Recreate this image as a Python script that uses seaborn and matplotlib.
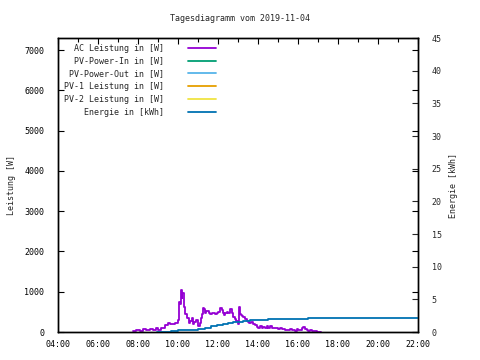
import numpy as np
import pandas as pd
import matplotlib
matplotlib.use("Agg")
import matplotlib.pyplot as plt
import seaborn as sns
from matplotlib.ticker import MultipleLocator, FuncFormatter

# AC Leistung [W] (time, value)
ac_times = ['07:46', '07:55', '08:05', '08:15', '08:25', '08:35', '08:45', '08:55', '09:00', '09:10',
            '09:21', '09:29', '09:37', '09:45', '09:51', '09:59', '10:03', '10:06', '10:09', '10:11',
            '10:13', '10:17', '10:21', '10:26', '10:33', '10:37', '10:41', '10:44', '10:48', '10:53',
            '10:59', '11:06', '11:10', '11:13', '11:16', '11:18', '11:21', '11:25', '11:28', '11:32',
            '11:36', '11:41', '11:46', '11:51', '11:56', '12:01', '12:06', '12:11', '12:14', '12:18',
            '12:22', '12:26', '12:31', '12:36', '12:41', '12:46', '12:50', '12:54', '12:59', '13:02',
            '13:04', '13:06', '13:08', '13:12', '13:16', '13:21', '13:26', '13:30', '13:34', '13:38',
            '13:41', '13:46', '13:51', '13:56', '14:01', '14:06', '14:11', '14:16', '14:21', '14:26',
            '14:31', '14:36', '14:41', '14:46', '14:51', '14:56', '15:01', '15:06', '15:11', '15:16',
            '15:21', '15:26', '15:31', '15:36', '15:41', '15:46', '15:51', '15:56', '16:01', '16:06',
            '16:11', '16:16', '16:21', '16:26', '16:31', '16:36', '16:41', '16:46', '16:51', '16:56',
            '17:01', '17:10']
ac_watt = [20, 60, 30, 70, 40, 80, 60, 90, 50, 110,
           175, 230, 190, 200, 220, 300, 750, 700, 1040, 850,
           960, 630, 450, 340, 230, 280, 340, 200, 260, 300,
           150, 230, 350, 450, 600, 560, 460, 520, 520, 480,
           440, 470, 460, 450, 480, 500, 590, 550, 470, 420,
           480, 500, 470, 560, 480, 370, 330, 280, 200, 400,
           620, 450, 420, 400, 370, 330, 270, 240, 220, 260,
           250, 200, 170, 130, 110, 140, 100, 130, 110, 140,
           90, 140, 110, 110, 90, 100, 70, 90, 70, 80,
           50, 60, 40, 70, 50, 60, 30, 70, 40, 50,
           90, 120, 70, 60, 30, 40, 30, 20, 25, 10,
           5, 0]

# Energie [kWh]
en_times = ['08:56', '09:20', '09:40', '09:58', '10:00', '10:20', '10:41', '11:00', '11:21', '11:40',
            '11:56', '12:15', '12:30', '12:46', '13:00', '13:16', '13:36', '14:01', '14:31', '14:34',
            '16:29', '22:00']
en_kwh = [0.0, 0.05, 0.1, 0.12, 0.27, 0.33, 0.38, 0.5, 0.64, 0.85,
          1.0, 1.2, 1.35, 1.5, 1.6, 1.72, 1.8, 1.88, 1.95, 2.0,
          2.16, 2.16]

labels = ['AC Leistung in [W]', 'PV-Power-In in [W]', 'PV-Power-Out in [W]',
          'PV-1 Leistung in [W]', 'PV-2 Leistung in [W]', 'Energie in [kWh]']
colors = ['#9400d3', '#009e73', '#56b4e9', '#e69f00', '#f0e442', '#0072b2']


def to_hours(ts):
    return [int(t[:2]) + int(t[3:]) / 60 for t in ts]


ac = pd.DataFrame({'h': to_hours(ac_times), 'w': ac_watt})
en = pd.DataFrame({'h': to_hours(en_times), 'kwh': en_kwh})

sns.set_style('white')
plt.rcParams['font.family'] = ['DejaVu Sans Mono']
plt.rcParams['font.size'] = 6

fig = plt.figure(figsize=(4.8, 3.6), dpi=100)
ax = fig.add_axes([58 / 480, 28 / 360, 360 / 480, 294 / 360])
ax2 = ax.twinx()

sns.lineplot(data=ac, x='h', y='w', ax=ax, color=colors[0], lw=1.3,
             drawstyle='steps-post', label=labels[0])
for lab, col in zip(labels[1:5], colors[1:5]):
    ax.plot([], [], color=col, lw=1.3, label=lab)
sns.lineplot(data=en, x='h', y='kwh', ax=ax2, color=colors[5], lw=1.3,
             drawstyle='steps-post', label=labels[5])

ax.set_xlim(4, 22)
ax.set_ylim(0, 7300)
ax2.set_ylim(0, 45)

ax.xaxis.set_major_locator(MultipleLocator(2))
ax.xaxis.set_minor_locator(MultipleLocator(1))
ax.xaxis.set_major_formatter(FuncFormatter(lambda v, p: '%02d:00' % int(round(v))))
ax.yaxis.set_major_locator(MultipleLocator(1000))
ax2.yaxis.set_major_locator(MultipleLocator(5))

ax.tick_params(which='both', direction='in', top=True, right=True, labelright=False,
               length=4, width=0.8, colors='black')
ax.tick_params(axis='y', pad=10)
ax.tick_params(axis='x', pad=6)
ax.tick_params(which='minor', length=3)
ax2.tick_params(direction='in', length=4, width=0.8, pad=10)

for a in (ax, ax2):
    for s in a.spines.values():
        s.set_color('black')
        s.set_linewidth(1)

ax.set_xlabel('')
ax.set_ylabel('Leistung [W]', labelpad=6)
ax2.set_ylabel('Energie [kWh]', labelpad=5)
fig.suptitle('Tagesdiagramm vom 2019-11-04', y=0.96, fontsize=6)

h1, l1 = ax.get_legend_handles_labels()
h2, l2 = ax2.get_legend_handles_labels()
if ax2.get_legend():
    ax2.get_legend().remove()
ax.legend(h1 + h2, l1 + l2, loc='upper left', bbox_to_anchor=(0.0, 1.0), frameon=False,
          markerfirst=False, handlelength=3.4, handletextpad=2.9, labelspacing=0.45,
          borderaxespad=0.3, fontsize=6)

fig.savefig('out.png', dpi=100)
